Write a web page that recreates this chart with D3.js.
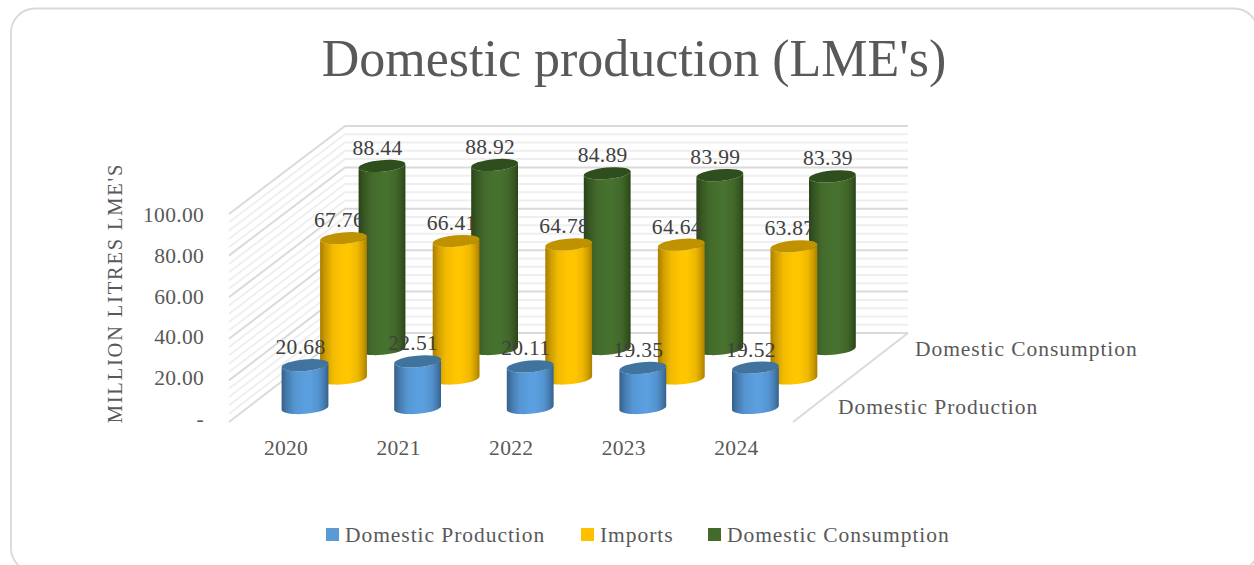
<!DOCTYPE html>
<html>
<head>
<meta charset="utf-8">
<script src="https://cdn.jsdelivr.net/npm/d3@7/dist/d3.min.js"></script>
<style>
html,body{margin:0;padding:0;background:#fff;overflow:hidden}
text{font-family:"Liberation Serif",serif}
</style>
</head>
<body>
<svg id="chart" width="1254" height="565"></svg>
<script>
// Chart values
const years = ["2020", "2021", "2022", "2023", "2024"];
const seriesNames = ["Domestic Production", "Imports", "Domestic Consumption"];
const depthLabels = ["Domestic Production", "Domestic Consumption"];
const domesticProduction = [20.68, 22.51, 20.11, 19.35, 19.52];
const imports = [67.76, 66.41, 64.78, 64.64, 63.87];
const domesticConsumption = [88.44, 88.92, 84.89, 83.99, 83.39];
const valueTicks = [0, 20, 40, 60, 80, 100];
const minorStep = 4;

const seriesValues = [domesticProduction, imports, domesticConsumption];
const palette = [
  {edge: "#35608a", mid: "#5b9fdf", cap: "#41739f", key: "#5b9bd5"},
  {edge: "#a87e00", mid: "#ffc600", cap: "#c09200", key: "#ffc000"},
  {edge: "#2a4418", mid: "#47712e", cap: "#2f4e1d", key: "#446a2b"}
];

const svg = d3.select("#chart");
const defs = svg.append("defs");

// Card outline, running past the right and bottom of the page
svg.append("rect").attr("x", 11).attr("y", 8.5).attr("width", 1247).attr("height", 563.5)
  .attr("rx", 24).attr("fill", "#fff").attr("stroke", "#d9d9d9").attr("stroke-width", 1.8);

svg.append("text").attr("x", 634).attr("y", 76).attr("text-anchor", "middle")
  .attr("font-size", 52).attr("fill", "#595959").text("Domestic production (LME's)");

// Projection of the 3D box onto the page
const yFront = d3.scaleLinear().domain([0, 100]).range([422, 214]);
const yBack = d3.scaleLinear().domain([0, 100]).range([333, 126]);
const yAxisLabels = d3.scaleLinear().domain([0, 100]).range([418.5, 215]);
const wallLeft = 229, wallMid = 345, wallRight = 908, floorRight = 793;

const gridValues = d3.range(0, 100 + minorStep, minorStep);
const grid = svg.append("g").attr("fill", "none");
gridValues.filter(v => v % 20 !== 0).concat(valueTicks).forEach(v => {
  const major = v % 20 === 0;
  const path = d3.path();
  path.moveTo(wallLeft, yFront(v));
  path.lineTo(wallMid, yBack(v));
  path.lineTo(wallRight, yBack(v));
  grid.append("path").attr("d", path.toString())
    .attr("stroke", major ? "#dadada" : "#efefef")
    .attr("stroke-width", 2);
});
grid.append("line").attr("x1", floorRight).attr("y1", yFront(0)).attr("x2", wallRight).attr("y2", yBack(0))
  .attr("stroke", "#dadada").attr("stroke-width", 2);

// Bar placement
const xCat = d3.scalePoint().domain(years).range([305, 755.4]);
const depthX = d3.scalePoint().domain(seriesNames).range([0, 77]);
const depthY = d3.scalePoint().domain(seriesNames).range([408, 349]);
const barHeight = d3.scaleLinear().domain([0, 100]).range([0, 207]);
const rx = 23.5, ry = 5.8, tilt = -5;
const tiltRad = tilt * Math.PI / 180;

// Horizontal shading gives each cylinder its rounded look
seriesNames.forEach((name, s) => {
  const shade = d3.interpolateRgb(palette[s].edge, palette[s].mid);
  const g = defs.append("linearGradient").attr("id", "bar" + s);
  [[0, 0], [12, 0.45], [28, 0.85], [50, 1], [62, 1], [80, 0.8], [92, 0.4], [100, 0]].forEach(([o, t]) => {
    g.append("stop").attr("offset", o + "%").attr("stop-color", shade(t));
  });
});

function cylinderBody(cx, yTop, yBase) {
  const dx = rx * Math.cos(tiltRad), dy = rx * Math.sin(tiltRad);
  return `M${cx - dx},${yTop - dy} L${cx - dx},${yBase - dy}` +
    ` A${rx},${ry} ${tilt} 0 0 ${cx + dx},${yBase + dy}` +
    ` L${cx + dx},${yTop + dy}` +
    ` A${rx},${ry} ${tilt} 0 1 ${cx - dx},${yTop - dy}Z`;
}

// Back rows first so nearer cylinders overlap them
const barLayer = svg.append("g");
d3.range(seriesNames.length).reverse().forEach(s => {
  const name = seriesNames[s];
  const rows = barLayer.append("g").selectAll("g")
    .data(years.map((y, i) => ({year: y, value: seriesValues[s][i]})))
    .join("g");
  rows.append("path")
    .attr("d", d => cylinderBody(xCat(d.year) + depthX(name), depthY(name) - barHeight(d.value), depthY(name)))
    .attr("fill", `url(#bar${s})`);
  rows.append("ellipse")
    .attr("rx", rx).attr("ry", ry)
    .attr("transform", d => `translate(${xCat(d.year) + depthX(name)},${depthY(name) - barHeight(d.value)}) rotate(${tilt})`)
    .attr("fill", palette[s].cap);
});

// Value labels sit above everything
const labelLayer = svg.append("g").attr("font-size", 21.5).attr("letter-spacing", 0.3)
  .attr("fill", "#404040").attr("text-anchor", "middle");
seriesNames.forEach((name, s) => {
  labelLayer.append("g").selectAll("text")
    .data(years.map((y, i) => ({year: y, value: seriesValues[s][i]})))
    .join("text")
    .attr("x", d => xCat(d.year) + depthX(name) - 4.5)
    .attr("y", d => depthY(name) - barHeight(d.value) - 11)
    .text(d => d.value.toFixed(2));
});

// Value axis labels
const axisG = svg.append("g").attr("transform", "translate(204,0)")
  .call(d3.axisLeft(yAxisLabels).tickValues(valueTicks).tickSize(0).tickPadding(0)
    .tickFormat(v => v === 0 ? "-" : v.toFixed(2)));
axisG.select(".domain").remove();
axisG.selectAll("text").attr("font-size", 21.5).attr("letter-spacing", 0.3).attr("fill", "#595959")
  .attr("font-family", "Liberation Serif").attr("dy", "0.32em");

svg.append("text").attr("transform", "translate(122,293) rotate(-90)").attr("text-anchor", "middle")
  .attr("font-size", 20.5).attr("letter-spacing", 1.8).attr("fill", "#595959").text("MILLION LITRES LME'S");

// Category labels
svg.append("g").attr("font-size", 21.5).attr("letter-spacing", 0.3).attr("fill", "#595959").attr("text-anchor", "middle")
  .selectAll("text").data(years).join("text")
  .attr("x", d => xCat(d) - 19).attr("y", 455).text(d => d);

// Depth axis labels
const depthLabelPos = d3.scaleOrdinal().domain(depthLabels).range([[838, 414], [915, 356]]);
svg.append("g").attr("font-size", 21.5).attr("letter-spacing", 0.95).attr("fill", "#595959")
  .selectAll("text").data(depthLabels).join("text")
  .attr("x", d => depthLabelPos(d)[0]).attr("y", d => depthLabelPos(d)[1]).text(d => d);

// Legend
const legendX = d3.scaleOrdinal().domain(seriesNames).range([326, 581, 708]);
const legend = svg.append("g").selectAll("g").data(seriesNames).join("g")
  .attr("transform", d => `translate(${legendX(d)},528)`);
legend.append("rect").attr("width", 13).attr("height", 13).attr("fill", (d, i) => palette[i].key);
legend.append("text").attr("x", 19).attr("y", 13.5).attr("font-size", 21.5).attr("letter-spacing", 0.95)
  .attr("fill", "#595959").text(d => d);
</script>
</body>
</html>
